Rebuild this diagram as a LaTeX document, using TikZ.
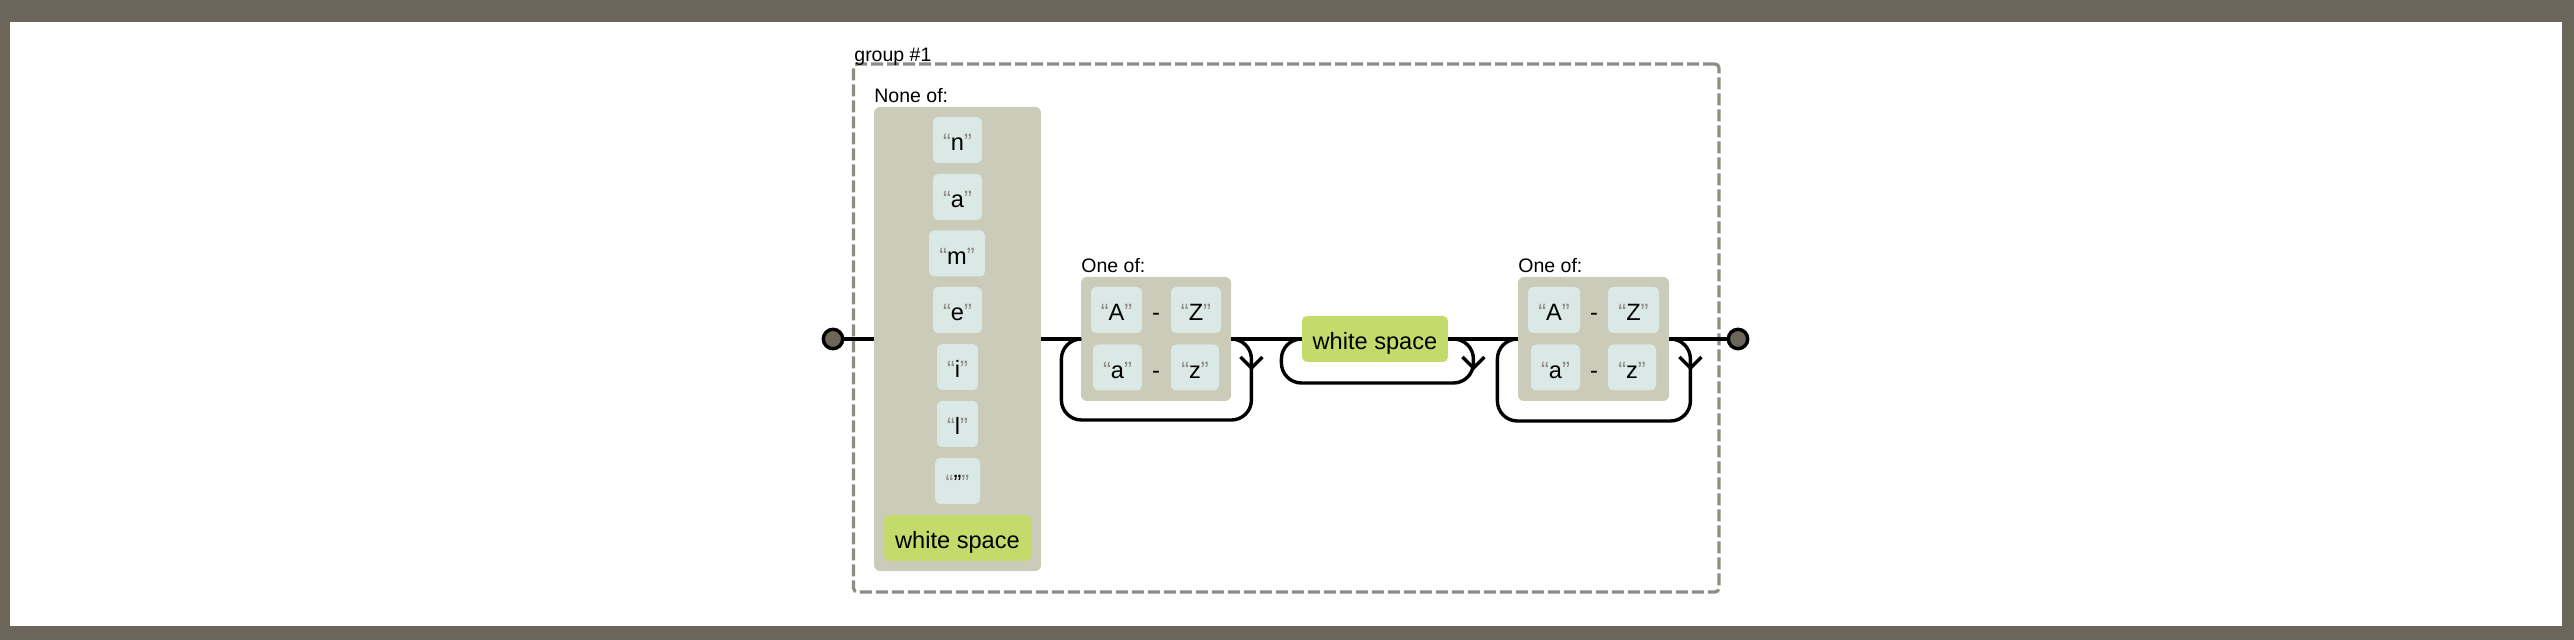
\documentclass[tikz,border=0pt]{standalone}
\usepackage{fontspec}
\setmainfont{Liberation Sans}
\usetikzlibrary{calc}
\definecolor{framec}{HTML}{6B6659}
\definecolor{grpc}{HTML}{908C83}
\definecolor{quotec}{HTML}{908C83}
\definecolor{setc}{HTML}{CBCBBA}
\definecolor{litc}{HTML}{DAE9E5}
\definecolor{escc}{HTML}{C4DA6A}
\newcommand\qlit[1]{{\color{quotec}“}#1{\color{quotec}”}}
\begin{document}
\begin{tikzpicture}[x=0.5pt,y=-0.5pt,
  rail/.style={line width=1.7pt},
  lit/.style={fill=litc, rounded corners=2.5pt, minimum height=23pt, inner sep=0pt,
    text height=11pt, text depth=0pt, font=\fontsize{11.8}{13}\selectfont},
  esc/.style={lit, fill=escc},
  rng/.style={inner sep=0pt, text height=11pt, text depth=0pt, font=\fontsize{11.8}{13}\selectfont},
  setbox/.style={fill=setc, rounded corners=3pt, inner sep=0pt},
  lbl/.style={anchor=base west, inner sep=0pt, font=\fontsize{9.75}{11}\selectfont},
  term/.style={circle, draw=black, fill=framec, line width=1.7pt, minimum size=9.7pt, inner sep=0pt},
  grp/.style={draw=grpc, line width=1.6pt, dash pattern=on 6pt off 2pt, rounded corners=2pt, inner sep=0pt}
]
\useasboundingbox (0,0) rectangle (2574,640);
\fill[framec] (0,0) rectangle (2574,640);
\fill[white] (10,22) rectangle (2562,626);

% group
\node[grp, minimum width=432.75pt, minimum height=264pt] (group) at (1286.25,328) {};
\node[lbl] (grplbl) at (854,62) {group \#1};

% none of
\node[setbox, minimum width=83.5pt, minimum height=232pt] (none) at (957.5,339) {};
\node[lbl] (nonelbl) at (874,103) {None of:};
\node[lit, minimum width=24.5pt] (ln) at (957.5,140) {\qlit{n}};
\node[lit, minimum width=24.5pt] (la) at (957.5,197) {\qlit{a}};
\node[lit, minimum width=28pt] (lm) at (957,253.5) {\qlit{m}};
\node[lit, minimum width=24.5pt] (le) at (957.5,310) {\qlit{e}};
\node[lit, minimum width=20.5pt] (li) at (957.5,367) {\qlit{i}};
\node[lit, minimum width=20.5pt] (ll) at (957.5,424) {\qlit{l}};
\node[lit, minimum width=22.5pt] (lq) at (957.5,481) {\qlit{"}};
\node[esc, minimum width=73.5pt] (lws) at (957.5,538) {white space};

% one of 1
\node[setbox, minimum width=75pt, minimum height=62pt] (cs1) at (1156,339) {};
\node[lbl] (cs1lbl) at (1081,273) {One of:};
\node[lit, minimum width=25.5pt] (c1A) at (1116.5,310) {\qlit{A}};
\node[rng] (c1d1) at (1156,310) {-};
\node[lit, minimum width=25pt] (c1Z) at (1196,310) {\qlit{Z}};
\node[lit, minimum width=24.5pt] (c1a) at (1117.5,367.5) {\qlit{a}};
\node[rng] (c1d2) at (1156,367.5) {-};
\node[lit, minimum width=24pt] (c1z) at (1195,367.5) {\qlit{z}};

% white space
\node[esc, minimum width=73pt] (ws) at (1375,339) {white space};

% one of 2
\node[setbox, minimum width=75.5pt, minimum height=62pt] (cs2) at (1593.5,339) {};
\node[lbl] (cs2lbl) at (1518,273) {One of:};
\node[lit, minimum width=26pt] (c2A) at (1554,310) {\qlit{A}};
\node[rng] (c2d1) at (1594,310) {-};
\node[lit, minimum width=25.5pt] (c2Z) at (1633.5,310) {\qlit{Z}};
\node[lit, minimum width=24.5pt] (c2a) at (1555.5,367.5) {\qlit{a}};
\node[rng] (c2d2) at (1594,367.5) {-};
\node[lit, minimum width=24pt] (c2z) at (1632,367.5) {\qlit{z}};

% terminals
\node[term] (start) at (833,339) {};
\node[term] (end) at (1738,339) {};

% rails
\draw[rail] (start) -- (none);
\draw[rail] (none) -- (cs1);
\draw[rail] (cs1) -- (ws);
\draw[rail] (ws) -- (cs2);
\draw[rail] (cs2) -- (end);

% loops
\draw[rail, rounded corners=10pt] (cs1.east) -- ++(20,0) -- ++(0,81) -- ++(-190,0) -- ++(0,-81) -- (cs1.west);
\draw[rail] ($(cs1.east)+(9,18)$) -- ++(11,11) -- ++(11,-11);
\draw[rail, rounded corners=10pt] (ws.east) -- ++(25,0) -- ++(0,44) -- ++(-192,0) -- ++(0,-44) -- (ws.west);
\draw[rail] ($(ws.east)+(14,18)$) -- ++(11,11) -- ++(11,-11);
\draw[rail, rounded corners=10pt] (cs2.east) -- ++(21,0) -- ++(0,82) -- ++(-193,0) -- ++(0,-82) -- (cs2.west);
\draw[rail] ($(cs2.east)+(10,18)$) -- ++(11,11) -- ++(11,-11);
\end{tikzpicture}
\end{document}
